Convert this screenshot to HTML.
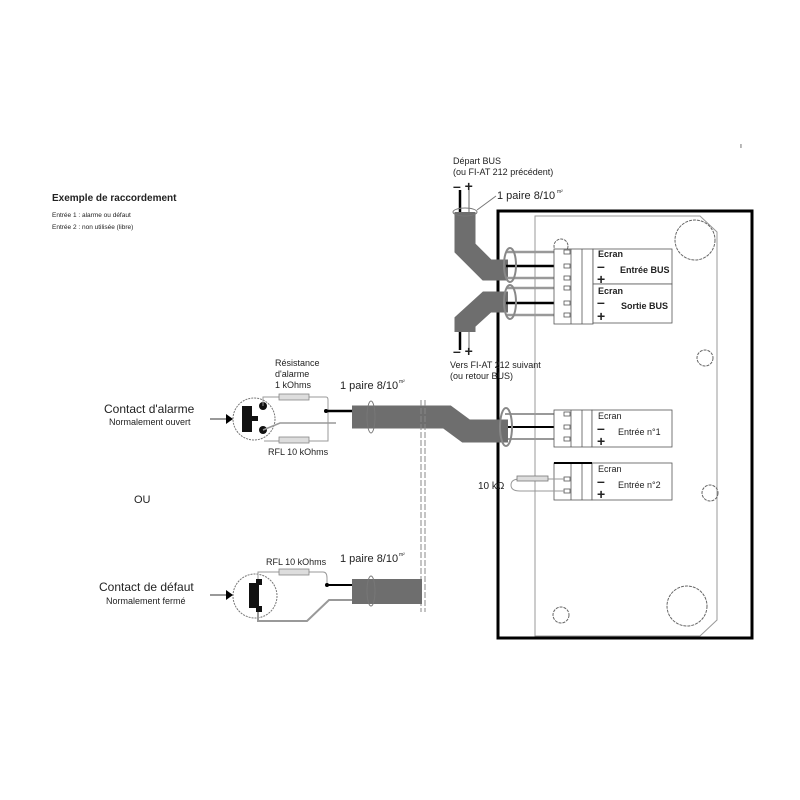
<!DOCTYPE html>
<html><head><meta charset="utf-8"><style>
body{margin:0;background:#fff}
svg{display:block}
text{font-family:"Liberation Sans",sans-serif;fill:#222}
</style></head><body>
<svg width="800" height="800" viewBox="0 0 800 800">
<text x="52" y="201" font-size="10" font-weight="bold" fill="#444">Exemple de raccordement</text>
<text x="52" y="217" font-size="6.5">Entrée 1 : alarme ou défaut</text>
<text x="52" y="229" font-size="6.5">Entrée 2 : non utilisée (libre)</text>
<text x="740" y="148" font-size="7" fill="#888">ı</text>

<!-- board -->
<rect x="498" y="211" width="254" height="427" fill="none" stroke="#000" stroke-width="3"/>
<path d="M535 216 H700 L717 232 V620 L700 636 H535 Z" fill="none" stroke="#999" stroke-width="1"/>
<g fill="none" stroke="#666" stroke-width="1" stroke-dasharray="3 1">
<circle cx="561" cy="246" r="7"/><circle cx="695" cy="240" r="20"/>
<circle cx="705" cy="358" r="8"/><circle cx="710" cy="493" r="8"/>
<circle cx="561" cy="615" r="8"/><circle cx="687" cy="606" r="20"/>
</g>

<!-- top cables -->
<path d="M465 212 V248 L487 270 H508" fill="none" stroke="#6e6e6e" stroke-width="21"/>
<path d="M508 302 H487 L465 322 V332" fill="none" stroke="#6e6e6e" stroke-width="21"/>
<line x1="460" y1="190" x2="460" y2="212" stroke="#000" stroke-width="2.5"/>
<line x1="469" y1="190" x2="469" y2="212" stroke="#999" stroke-width="1.5"/>
<line x1="460" y1="332" x2="460" y2="350" stroke="#000" stroke-width="2.5"/>
<line x1="469" y1="332" x2="469" y2="350" stroke="#999" stroke-width="1.5"/>
<ellipse cx="465" cy="212" rx="12" ry="4" fill="none" stroke="#777"/>
<line x1="477" y1="210" x2="496" y2="196" stroke="#777"/>
<text x="453" y="164" font-size="9">Départ BUS</text>
<text x="453" y="175" font-size="9">(ou FI-AT 212 précédent)</text>
<text x="453" y="191" font-size="14" font-weight="bold">– +</text>
<text x="497" y="199" font-size="11">1 paire 8/10</text><text x="557" y="193" font-size="5">m²</text>
<text x="453" y="356" font-size="14" font-weight="bold">– +</text>
<text x="450" y="368" font-size="9">Vers FI-AT 212 suivant</text>
<text x="450" y="379" font-size="9">(ou retour BUS)</text>

<!-- bus wires -->
<g stroke-width="2.5" fill="none">
<line x1="506" y1="252" x2="566" y2="252" stroke="#999"/>
<line x1="506" y1="266" x2="566" y2="266" stroke="#000"/>
<line x1="506" y1="278" x2="566" y2="278" stroke="#999"/>
<line x1="506" y1="288" x2="566" y2="288" stroke="#999"/>
<line x1="506" y1="303" x2="566" y2="303" stroke="#000"/>
<line x1="506" y1="315" x2="566" y2="315" stroke="#999"/>
</g>
<ellipse cx="510" cy="265" rx="6" ry="17" fill="none" stroke="#888" stroke-width="2"/>
<ellipse cx="510" cy="302" rx="6" ry="17" fill="none" stroke="#888" stroke-width="2"/>
<g fill="#fff" stroke="#555" stroke-width="0.8">
<rect x="554" y="249" width="39" height="75"/>
<line x1="571" y1="249" x2="571" y2="324"/><line x1="582" y1="249" x2="582" y2="324"/>
<rect x="593" y="249" width="79" height="35"/><rect x="593" y="284" width="79" height="39"/>
<rect x="564" y="250" width="6" height="4"/><rect x="564" y="264" width="6" height="4"/><rect x="564" y="276" width="6" height="4"/>
<rect x="564" y="286" width="6" height="4"/><rect x="564" y="301" width="6" height="4"/><rect x="564" y="313" width="6" height="4"/>
</g>
<g font-size="9" font-weight="bold">
<text x="598" y="257">Ecran</text><text x="620" y="273">Entrée BUS</text>
<text x="598" y="294">Ecran</text><text x="621" y="309">Sortie BUS</text>
</g>
<g font-size="14" font-weight="bold">
<text x="597" y="271">–</text><text x="597" y="284">+</text>
<text x="597" y="307">–</text><text x="597" y="321">+</text>
</g>

<!-- entrée 1/2 -->
<g stroke-width="2" fill="none">
<line x1="505" y1="414" x2="567" y2="414" stroke="#999"/>
<line x1="505" y1="427" x2="567" y2="427" stroke="#000"/>
<line x1="505" y1="439" x2="567" y2="439" stroke="#999"/>
</g>
<g fill="#fff" stroke="#555" stroke-width="0.8">
<rect x="554" y="410" width="38" height="37"/><line x1="571" y1="410" x2="571" y2="447"/><line x1="582" y1="410" x2="582" y2="447"/>
<rect x="592" y="410" width="80" height="37"/>
<rect x="554" y="463" width="38" height="37"/><line x1="571" y1="463" x2="571" y2="500"/><line x1="582" y1="463" x2="582" y2="500"/>
<rect x="592" y="463" width="80" height="37"/>
<rect x="564" y="412" width="6" height="4"/><rect x="564" y="425" width="6" height="4"/><rect x="564" y="437" width="6" height="4"/>
<rect x="564" y="477" width="6" height="4"/><rect x="564" y="489" width="6" height="4"/>
</g>
<line x1="554" y1="463" x2="592" y2="463" stroke="#000" stroke-width="2"/>
<g font-size="9"><text x="598" y="419">Ecran</text><text x="618" y="435">Entrée n°1</text>
<text x="598" y="472">Ecran</text><text x="618" y="488">Entrée n°2</text></g>
<g font-size="14" font-weight="bold"><text x="597" y="433">–</text><text x="597" y="446">+</text>
<text x="597" y="486">–</text><text x="597" y="499">+</text></g>
<path d="M565 479 H520 Q511 479 511 485 Q511 491 520 491 H565" fill="none" stroke="#999" stroke-width="1"/>
<rect x="517" y="476" width="31" height="5" fill="#ddd" stroke="#777" stroke-width="0.8"/>
<text x="478" y="489" font-size="10">10 kΩ</text>

<!-- main cable -->
<path d="M352 417 H447 L466 431 H508" fill="none" stroke="#6e6e6e" stroke-width="23"/>
<ellipse cx="506" cy="427" rx="6" ry="19" fill="none" stroke="#888" stroke-width="2"/>
<ellipse cx="371" cy="417" rx="4" ry="16" fill="none" stroke="#777"/>
<line x1="421" y1="400" x2="421" y2="612" stroke="#888" stroke-dasharray="6 2"/>
<line x1="425" y1="400" x2="425" y2="612" stroke="#888" stroke-dasharray="6 2"/>
<text x="340" y="389" font-size="11">1 paire 8/10</text><text x="399" y="383" font-size="5">m²</text>

<!-- alarm contact -->
<text x="104" y="413" font-size="12">Contact d'alarme</text>
<text x="109" y="425" font-size="9">Normalement ouvert</text>
<line x1="210" y1="419" x2="228" y2="419" stroke="#333"/><path d="M226 414 L233 419 L226 424Z" fill="#000"/>
<circle cx="254" cy="419" r="21" fill="none" stroke="#777" stroke-dasharray="2 1"/>
<rect x="242" y="406" width="10" height="26" fill="#111"/><rect x="252" y="416" width="6" height="5" fill="#111"/>
<circle cx="263" cy="406" r="4" fill="#111"/><circle cx="263" cy="430" r="4" fill="#111"/>
<path d="M263 406 V397 H326 Q328 397 328 400 V441 H264" fill="none" stroke="#999"/>
<path d="M263 430 L280 423 H336" fill="none" stroke="#999" stroke-width="1.5"/>
<rect x="279" y="394" width="30" height="6" fill="#ddd" stroke="#888" stroke-width="0.8"/>
<rect x="279" y="437" width="30" height="6" fill="#ddd" stroke="#888" stroke-width="0.8"/>
<line x1="326" y1="411" x2="352" y2="411" stroke="#000" stroke-width="2.5"/><circle cx="326" cy="411" r="2" fill="#000"/>
<text x="275" y="366" font-size="9">Résistance</text>
<text x="275" y="377" font-size="9">d'alarme</text>
<text x="275" y="388" font-size="9">1 kOhms</text>
<text x="268" y="455" font-size="9">RFL 10 kOhms</text>

<text x="134" y="503" font-size="11">OU</text>

<!-- fault contact -->
<text x="99" y="591" font-size="12">Contact de défaut</text>
<text x="106" y="604" font-size="9">Normalement fermé</text>
<line x1="210" y1="595" x2="228" y2="595" stroke="#333"/><path d="M226 590 L233 595 L226 600Z" fill="#000"/>
<circle cx="255" cy="596" r="22" fill="none" stroke="#777" stroke-dasharray="2 1"/>
<rect x="249" y="583" width="10" height="25" fill="#111"/>
<rect x="256" y="579" width="6" height="6" fill="#111"/><rect x="256" y="606" width="6" height="6" fill="#111"/>
<path d="M258 579 V572 H279 M309 572 H323 Q327 572 327 578 V585" fill="none" stroke="#999"/>
<rect x="279" y="569" width="30" height="6" fill="#ddd" stroke="#888" stroke-width="0.8"/>
<path d="M258 612 V621 H307 L329 600 H352" fill="none" stroke="#999" stroke-width="2"/>
<line x1="327" y1="585" x2="352" y2="585" stroke="#000" stroke-width="2"/><circle cx="327" cy="585" r="2" fill="#000"/>
<rect x="352" y="579" width="70" height="25" fill="#6e6e6e"/>
<ellipse cx="371" cy="591" rx="4" ry="15" fill="none" stroke="#777"/>
<text x="266" y="565" font-size="9">RFL 10 kOhms</text>
<text x="340" y="562" font-size="11">1 paire 8/10</text><text x="399" y="556" font-size="5">m²</text>
</svg>
</body></html>
